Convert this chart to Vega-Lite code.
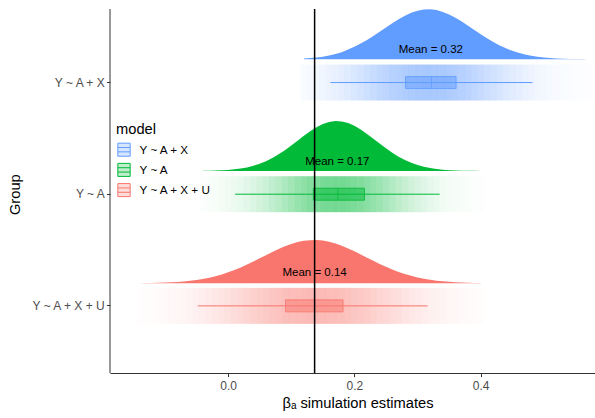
{
  "$schema": "https://vega.github.io/schema/vega-lite/v6.json",
  "width": 485,
  "height": 364,
  "autosize": {"type": "none"},
  "padding": {"left": 110, "top": 9, "right": 0, "bottom": 45},
  "config": {
    "font": "Liberation Sans",
    "view": {"stroke": null},
    "axis": {"grid": false, "domainColor": "#333333", "domainWidth": 1, "tickColor": "#333333", "tickSize": 3.6, "labelColor": "#4D4D4D", "labelFontSize": 12, "titleFontSize": 14.7, "titleFontWeight": "normal", "titleColor": "#000000"}
  },
  "datasets": {
    "dens": [
      {"model": "Y ~ A + X", "x": 0.12, "d": 0.10},
      {"model": "Y ~ A + X", "x": 0.13, "d": 0.16},
      {"model": "Y ~ A + X", "x": 0.14, "d": 0.24},
      {"model": "Y ~ A + X", "x": 0.15, "d": 0.35},
      {"model": "Y ~ A + X", "x": 0.16, "d": 0.50},
      {"model": "Y ~ A + X", "x": 0.17, "d": 0.70},
      {"model": "Y ~ A + X", "x": 0.18, "d": 0.95},
      {"model": "Y ~ A + X", "x": 0.19, "d": 1.30},
      {"model": "Y ~ A + X", "x": 0.20, "d": 1.69},
      {"model": "Y ~ A + X", "x": 0.21, "d": 2.11},
      {"model": "Y ~ A + X", "x": 0.22, "d": 2.59},
      {"model": "Y ~ A + X", "x": 0.23, "d": 3.12},
      {"model": "Y ~ A + X", "x": 0.24, "d": 3.68},
      {"model": "Y ~ A + X", "x": 0.25, "d": 4.25},
      {"model": "Y ~ A + X", "x": 0.26, "d": 4.82},
      {"model": "Y ~ A + X", "x": 0.27, "d": 5.34},
      {"model": "Y ~ A + X", "x": 0.28, "d": 5.82},
      {"model": "Y ~ A + X", "x": 0.29, "d": 6.20},
      {"model": "Y ~ A + X", "x": 0.30, "d": 6.48},
      {"model": "Y ~ A + X", "x": 0.31, "d": 6.64},
      {"model": "Y ~ A + X", "x": 0.32, "d": 6.66},
      {"model": "Y ~ A + X", "x": 0.33, "d": 6.56},
      {"model": "Y ~ A + X", "x": 0.34, "d": 6.32},
      {"model": "Y ~ A + X", "x": 0.35, "d": 5.98},
      {"model": "Y ~ A + X", "x": 0.36, "d": 5.54},
      {"model": "Y ~ A + X", "x": 0.37, "d": 5.04},
      {"model": "Y ~ A + X", "x": 0.38, "d": 4.48},
      {"model": "Y ~ A + X", "x": 0.39, "d": 3.91},
      {"model": "Y ~ A + X", "x": 0.40, "d": 3.34},
      {"model": "Y ~ A + X", "x": 0.41, "d": 2.80},
      {"model": "Y ~ A + X", "x": 0.42, "d": 2.30},
      {"model": "Y ~ A + X", "x": 0.43, "d": 1.85},
      {"model": "Y ~ A + X", "x": 0.44, "d": 1.46},
      {"model": "Y ~ A + X", "x": 0.45, "d": 1.13},
      {"model": "Y ~ A + X", "x": 0.46, "d": 0.86},
      {"model": "Y ~ A + X", "x": 0.47, "d": 0.64},
      {"model": "Y ~ A + X", "x": 0.48, "d": 0.46},
      {"model": "Y ~ A + X", "x": 0.49, "d": 0.33},
      {"model": "Y ~ A + X", "x": 0.50, "d": 0.23},
      {"model": "Y ~ A + X", "x": 0.51, "d": 0.16},
      {"model": "Y ~ A + X", "x": 0.52, "d": 0.11},
      {"model": "Y ~ A + X", "x": 0.53, "d": 0.07},
      {"model": "Y ~ A + X", "x": 0.54, "d": 0.05},
      {"model": "Y ~ A + X", "x": 0.55, "d": 0.04},
      {"model": "Y ~ A + X", "x": 0.56, "d": 0.03},
      {"model": "Y ~ A + X", "x": 0.57, "d": 0.02},
      {"model": "Y ~ A + X", "x": 0.58, "d": 0.01},
      {"model": "Y ~ A", "x": -0.04, "d": 0.02},
      {"model": "Y ~ A", "x": -0.03, "d": 0.03},
      {"model": "Y ~ A", "x": -0.02, "d": 0.06},
      {"model": "Y ~ A", "x": -0.01, "d": 0.09},
      {"model": "Y ~ A", "x": 0.00, "d": 0.14},
      {"model": "Y ~ A", "x": 0.01, "d": 0.22},
      {"model": "Y ~ A", "x": 0.02, "d": 0.33},
      {"model": "Y ~ A", "x": 0.03, "d": 0.48},
      {"model": "Y ~ A", "x": 0.04, "d": 0.69},
      {"model": "Y ~ A", "x": 0.05, "d": 0.96},
      {"model": "Y ~ A", "x": 0.06, "d": 1.30},
      {"model": "Y ~ A", "x": 0.07, "d": 1.72},
      {"model": "Y ~ A", "x": 0.08, "d": 2.22},
      {"model": "Y ~ A", "x": 0.09, "d": 2.78},
      {"model": "Y ~ A", "x": 0.10, "d": 3.40},
      {"model": "Y ~ A", "x": 0.11, "d": 4.05},
      {"model": "Y ~ A", "x": 0.12, "d": 4.69},
      {"model": "Y ~ A", "x": 0.13, "d": 5.30},
      {"model": "Y ~ A", "x": 0.14, "d": 5.84},
      {"model": "Y ~ A", "x": 0.15, "d": 6.26},
      {"model": "Y ~ A", "x": 0.16, "d": 6.55},
      {"model": "Y ~ A", "x": 0.17, "d": 6.67},
      {"model": "Y ~ A", "x": 0.18, "d": 6.61},
      {"model": "Y ~ A", "x": 0.19, "d": 6.40},
      {"model": "Y ~ A", "x": 0.20, "d": 6.02},
      {"model": "Y ~ A", "x": 0.21, "d": 5.53},
      {"model": "Y ~ A", "x": 0.22, "d": 4.94},
      {"model": "Y ~ A", "x": 0.23, "d": 4.31},
      {"model": "Y ~ A", "x": 0.24, "d": 3.66},
      {"model": "Y ~ A", "x": 0.25, "d": 3.02},
      {"model": "Y ~ A", "x": 0.26, "d": 2.44},
      {"model": "Y ~ A", "x": 0.27, "d": 1.91},
      {"model": "Y ~ A", "x": 0.28, "d": 1.46},
      {"model": "Y ~ A", "x": 0.29, "d": 1.09},
      {"model": "Y ~ A", "x": 0.30, "d": 0.79},
      {"model": "Y ~ A", "x": 0.31, "d": 0.56},
      {"model": "Y ~ A", "x": 0.32, "d": 0.39},
      {"model": "Y ~ A", "x": 0.33, "d": 0.26},
      {"model": "Y ~ A", "x": 0.34, "d": 0.17},
      {"model": "Y ~ A", "x": 0.35, "d": 0.11},
      {"model": "Y ~ A", "x": 0.36, "d": 0.07},
      {"model": "Y ~ A", "x": 0.37, "d": 0.05},
      {"model": "Y ~ A", "x": 0.38, "d": 0.03},
      {"model": "Y ~ A", "x": 0.39, "d": 0.02},
      {"model": "Y ~ A", "x": 0.40, "d": 0.01},
      {"model": "Y ~ A + X + U", "x": -0.14, "d": 0.02},
      {"model": "Y ~ A + X + U", "x": -0.13, "d": 0.03},
      {"model": "Y ~ A + X + U", "x": -0.12, "d": 0.04},
      {"model": "Y ~ A + X + U", "x": -0.11, "d": 0.06},
      {"model": "Y ~ A + X + U", "x": -0.10, "d": 0.09},
      {"model": "Y ~ A + X + U", "x": -0.09, "d": 0.13},
      {"model": "Y ~ A + X + U", "x": -0.08, "d": 0.18},
      {"model": "Y ~ A + X + U", "x": -0.07, "d": 0.25},
      {"model": "Y ~ A + X + U", "x": -0.06, "d": 0.33},
      {"model": "Y ~ A + X + U", "x": -0.05, "d": 0.44},
      {"model": "Y ~ A + X + U", "x": -0.04, "d": 0.58},
      {"model": "Y ~ A + X + U", "x": -0.03, "d": 0.74},
      {"model": "Y ~ A + X + U", "x": -0.02, "d": 0.95},
      {"model": "Y ~ A + X + U", "x": -0.01, "d": 1.18},
      {"model": "Y ~ A + X + U", "x": 0.00, "d": 1.46},
      {"model": "Y ~ A + X + U", "x": 0.01, "d": 1.77},
      {"model": "Y ~ A + X + U", "x": 0.02, "d": 2.12},
      {"model": "Y ~ A + X + U", "x": 0.03, "d": 2.50},
      {"model": "Y ~ A + X + U", "x": 0.04, "d": 2.91},
      {"model": "Y ~ A + X + U", "x": 0.05, "d": 3.33},
      {"model": "Y ~ A + X + U", "x": 0.06, "d": 3.75},
      {"model": "Y ~ A + X + U", "x": 0.07, "d": 4.18},
      {"model": "Y ~ A + X + U", "x": 0.08, "d": 4.57},
      {"model": "Y ~ A + X + U", "x": 0.09, "d": 4.93},
      {"model": "Y ~ A + X + U", "x": 0.10, "d": 5.24},
      {"model": "Y ~ A + X + U", "x": 0.11, "d": 5.49},
      {"model": "Y ~ A + X + U", "x": 0.12, "d": 5.66},
      {"model": "Y ~ A + X + U", "x": 0.13, "d": 5.75},
      {"model": "Y ~ A + X + U", "x": 0.14, "d": 5.76},
      {"model": "Y ~ A + X + U", "x": 0.15, "d": 5.69},
      {"model": "Y ~ A + X + U", "x": 0.16, "d": 5.53},
      {"model": "Y ~ A + X + U", "x": 0.17, "d": 5.29},
      {"model": "Y ~ A + X + U", "x": 0.18, "d": 5.00},
      {"model": "Y ~ A + X + U", "x": 0.19, "d": 4.64},
      {"model": "Y ~ A + X + U", "x": 0.20, "d": 4.26},
      {"model": "Y ~ A + X + U", "x": 0.21, "d": 3.84},
      {"model": "Y ~ A + X + U", "x": 0.22, "d": 3.42},
      {"model": "Y ~ A + X + U", "x": 0.23, "d": 2.99},
      {"model": "Y ~ A + X + U", "x": 0.24, "d": 2.58},
      {"model": "Y ~ A + X + U", "x": 0.25, "d": 2.20},
      {"model": "Y ~ A + X + U", "x": 0.26, "d": 1.84},
      {"model": "Y ~ A + X + U", "x": 0.27, "d": 1.52},
      {"model": "Y ~ A + X + U", "x": 0.28, "d": 1.23},
      {"model": "Y ~ A + X + U", "x": 0.29, "d": 0.99},
      {"model": "Y ~ A + X + U", "x": 0.30, "d": 0.78},
      {"model": "Y ~ A + X + U", "x": 0.31, "d": 0.61},
      {"model": "Y ~ A + X + U", "x": 0.32, "d": 0.47},
      {"model": "Y ~ A + X + U", "x": 0.33, "d": 0.35},
      {"model": "Y ~ A + X + U", "x": 0.34, "d": 0.26},
      {"model": "Y ~ A + X + U", "x": 0.35, "d": 0.19},
      {"model": "Y ~ A + X + U", "x": 0.36, "d": 0.14},
      {"model": "Y ~ A + X + U", "x": 0.37, "d": 0.10},
      {"model": "Y ~ A + X + U", "x": 0.38, "d": 0.07},
      {"model": "Y ~ A + X + U", "x": 0.39, "d": 0.05},
      {"model": "Y ~ A + X + U", "x": 0.40, "d": 0.03}
    ],
    "box": [
      {"model": "Y ~ A + X", "lo": 0.162, "q1": 0.281, "med": 0.322, "q3": 0.361, "hi": 0.482, "mean": 0.321, "label": "Mean = 0.32"},
      {"model": "Y ~ A", "lo": 0.011, "q1": 0.135, "med": 0.174, "q3": 0.216, "hi": 0.335, "mean": 0.173, "label": "Mean = 0.17"},
      {"model": "Y ~ A + X + U", "lo": -0.048, "q1": 0.091, "med": 0.137, "q3": 0.182, "hi": 0.316, "mean": 0.137, "label": "Mean = 0.14"}
    ]
  },
  "layer": [
    {
      "encoding": {
        "y": {"field": "model", "type": "nominal", "sort": ["Y ~ A + X", "Y ~ A", "Y ~ A + X + U"],
              "scale": {"domain": ["Y ~ A + X", "Y ~ A", "Y ~ A + X + U"], "range": [17.7, 352.7], "paddingInner": 0, "paddingOuter": 0},
              "axis": {"title": "Group", "labelPadding": 2.2, "titlePadding": 8, "domain": false}},
        "color": {"field": "model", "type": "nominal",
                  "scale": {"domain": ["Y ~ A + X", "Y ~ A", "Y ~ A + X + U"], "range": ["#619CFF", "#00BA38", "#F8766D"]},
                  "legend": {"orient": "none", "legendX": 6, "legendY": 113, "title": "model", "titleFontSize": 14.7, "titleFontWeight": "normal", "titleColor": "#000000", "titlePadding": 5, "labelFontSize": 11.7, "labelColor": "#000000", "labelOffset": 7.6, "rowPadding": 2.2, "padding": 0,
                             "symbolType": "M-0.85,-0.9H0.85V0.9H-0.85Z M-0.85,-0.3H0.85 M-0.85,0.3H0.85", "symbolSize": 210,
                             "encode": {"symbols": {"update": {"fill": {"scale": "color", "field": "value"}, "fillOpacity": {"value": 0.25}, "stroke": {"scale": "color", "field": "value"}, "strokeWidth": {"value": 1}, "opacity": {"value": 1}}}}}}
      },
      "layer": [
        {
          "data": {"name": "dens"},
          "mark": {"type": "tick", "thickness": 6.4, "size": 36},
          "encoding": {
            "x": {"field": "x", "type": "quantitative", "scale": {"domain": [-0.187, 0.581], "nice": false, "zero": false},
                  "axis": {"values": [0, 0.2, 0.4], "format": ".1f", "title": "βₐ simulation estimates", "labelPadding": 4, "titlePadding": 4, "titleX": 247.5, "titleAlign": "center"}},
            "opacity": {"field": "d", "type": "quantitative", "scale": {"type": "pow", "exponent": 0.6, "domain": [0, 6.7], "range": [0, 0.55]}, "legend": null}
          }
        },
        {
          "data": {"name": "box"},
          "mark": {"type": "rule", "strokeWidth": 1},
          "encoding": {"x": {"field": "lo", "type": "quantitative"}, "x2": {"field": "hi"}}
        },
        {
          "data": {"name": "box"},
          "mark": {"type": "bar", "height": 12, "opacity": 0.5},
          "encoding": {"x": {"field": "q1", "type": "quantitative"}, "x2": {"field": "q3"}}
        },
        {
          "data": {"name": "box"},
          "mark": {"type": "bar", "height": 12, "filled": false, "strokeWidth": 1, "opacity": 0.8},
          "encoding": {"x": {"field": "q1", "type": "quantitative"}, "x2": {"field": "q3"}}
        },
        {
          "data": {"name": "box"},
          "mark": {"type": "tick", "size": 12, "thickness": 1, "opacity": 0.8},
          "encoding": {"x": {"field": "med", "type": "quantitative"}}
        }
      ]
    },
    {
      "data": {"name": "dens"},
      "transform": [{"filter": "datum.model == 'Y ~ A + X'"}],
      "mark": {"type": "area", "opacity": 1},
      "encoding": {
        "x": {"field": "x", "type": "quantitative"},
        "y": {"field": "d", "type": "quantitative", "scale": {"domain": [-41.827, 6.707], "nice": false, "zero": false}, "axis": null},
        "color": {"field": "model", "type": "nominal"}
      }
    },
    {
      "data": {"name": "dens"},
      "transform": [{"filter": "datum.model == 'Y ~ A'"}],
      "mark": {"type": "area", "opacity": 1},
      "encoding": {
        "x": {"field": "x", "type": "quantitative"},
        "y": {"field": "d", "type": "quantitative", "scale": {"domain": [-26.933, 21.6], "nice": false, "zero": false}, "axis": null},
        "color": {"field": "model", "type": "nominal"}
      }
    },
    {
      "data": {"name": "dens"},
      "transform": [{"filter": "datum.model == 'Y ~ A + X + U'"}],
      "mark": {"type": "area", "opacity": 1},
      "encoding": {
        "x": {"field": "x", "type": "quantitative"},
        "y": {"field": "d", "type": "quantitative", "scale": {"domain": [-11.96, 36.573], "nice": false, "zero": false}, "axis": null},
        "color": {"field": "model", "type": "nominal"}
      }
    },
    {
      "data": {"name": "box"},
      "mark": {"type": "text", "fontSize": 11.5, "color": "#000000", "baseline": "middle", "align": "center", "dy": -32.5},
      "encoding": {
        "x": {"field": "mean", "type": "quantitative"},
        "y": {"field": "model", "type": "nominal", "scale": {"domain": ["Y ~ A + X", "Y ~ A", "Y ~ A + X + U"], "range": [17.7, 352.7], "paddingInner": 0, "paddingOuter": 0}, "axis": null},
        "text": {"field": "label"}
      }
    },
    {
      "data": {"values": [{}]},
      "mark": {"type": "rule", "color": "#333333", "strokeWidth": 1},
      "encoding": {"x": {"datum": -0.187}}
    },
    {
      "data": {"values": [{}]},
      "mark": {"type": "rule", "color": "#000000", "strokeWidth": 1.5},
      "encoding": {"x": {"datum": 0.137}}
    }
  ],
  "resolve": {"scale": {"y": "independent"}, "axis": {"y": "independent"}}
}
